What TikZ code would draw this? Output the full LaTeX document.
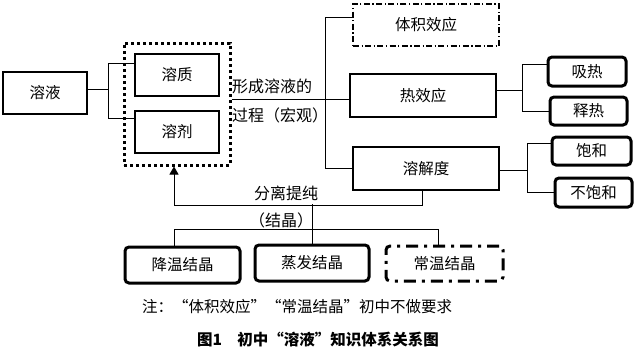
\documentclass[tikz,border=0pt]{standalone}
\usepackage{fontspec}
\newfontfamily\cjk{Noto Sans CJK SC}
\usetikzlibrary{arrows.meta,calc}
\begin{document}
\begin{tikzpicture}[x=1pt,y=-1pt,
  every node/.style={font=\cjk\fontsize{15.5}{18}\selectfont, inner sep=0pt},
  plainbox/.style={draw, line width=1.2pt},
  thickbox/.style={draw, line width=3pt, rounded corners=4pt},
  dotbox/.style={draw, line width=3pt, dash pattern=on 3pt off 3pt},
  dashdotthin/.style={draw, line width=1.2pt, dash pattern=on 6pt off 2.5pt on 1.2pt off 2.5pt},
  dashdotthick/.style={draw, line width=3pt, rounded corners=4pt, dash pattern=on 12pt off 6pt on 3pt off 6pt},
  ln/.style={line width=1pt},
  lab/.style={font=\cjk\fontsize{16}{18}\selectfont}
]
\useasboundingbox (0,0) rectangle (640,349);
\fill[white] (0,0) rectangle (640,349);

% boxes
\node[plainbox, minimum width=84pt, minimum height=42pt] (yy) at (45,93) {溶液};
\node[plainbox, minimum width=84pt, minimum height=42pt] (rz) at (177,75) {溶质};
\node[plainbox, minimum width=84pt, minimum height=42pt] (rj) at (177,132) {溶剂};
\node[dotbox, minimum width=106pt, minimum height=122pt] (dbox) at (177,104) {};
\node[dashdotthin, minimum width=146pt, minimum height=42pt] (tj) at (426,25) {体积效应};
\node[plainbox, minimum width=146pt, minimum height=43pt] (rxy) at (423,95.5) {热效应};
\node[plainbox, minimum width=146pt, minimum height=43pt] (rjd) at (426,168.5) {溶解度};
\node[thickbox, minimum width=78pt, minimum height=29pt] (xr) at (587,71.5) {吸热};
\node[thickbox, minimum width=77pt, minimum height=28pt] (sr) at (588.5,111) {释热};
\node[thickbox, minimum width=79pt, minimum height=28pt] (bh) at (591.5,151) {饱和};
\node[thickbox, minimum width=77pt, minimum height=29pt] (bbh) at (593.5,192.5) {不饱和};
\node[thickbox, minimum width=115pt, minimum height=36pt] (jw) at (182.5,265) {降温结晶};
\node[thickbox, minimum width=114pt, minimum height=36pt] (zf) at (312,263) {蒸发结晶};
\node[dashdotthick, minimum width=117pt, minimum height=35pt] (cw) at (444.5,263.5) {常温结晶};

% labels
\node[lab, anchor=west] (l1) at (232,86) {形成溶液的};
\node[lab, anchor=west] (l2) at (232,115) {过程（宏观）};
\node[lab] (l3) at (286,193) {分离提纯};
\node[lab] (l4) at (281,220) {（结晶）};
\node[anchor=west, font=\cjk\fontsize{15.5}{17}\selectfont] (note) at (142,307) {注：“体积效应”“常温结晶”初中不做要求};
\node[font=\cjk\bfseries\fontsize{15.5}{16}\selectfont] (cap) at (318,340) {图1\quad 初中“溶液”知识体系关系图};

% connectors
\draw[ln] ($(yy.east)+(0,-4)$) -- ++(21,0);
\draw[ln] ($(rz.west)+(0,-12)$) -| ($(yy.east)+(21,0)$) |- ($(rj.west)+(0,-14)$);

\coordinate (p1) at ($(dbox.east)+(0,-5)$);
\draw[ln] (p1) -- (p1 -| rxy.west);
\draw[ln] ($(tj.west)+(0,-8)$) -- ++(-27,0) |- (rjd.west);

\coordinate (p2) at ($(rxy.east)+(0,-5.5)$);
\draw[ln] (p2) -- ++(26,0);
\draw[ln] ($(xr.west)+(0,-7.5)$) -| ($(p2)+(26,0)$) |- (sr.west);

\coordinate (p3) at ($(rjd.east)+(0,1.5)$);
\draw[ln] (p3) -- ++(28,0);
\draw[ln] ($(bh.west)+(0,-8)$) -| ($(p3)+(28,0)$) |- (bbh.west);

\draw[ln, -{Triangle[width=9pt,length=8pt]}] ($(rjd.south)+(-4,0)$) -- ++(0,15) -| ($(dbox.south)+(-3,0)$);
\draw[ln] (zf.north) -- ++(0,-40);
\draw[ln] ($(jw.north)+(-8.5,0)$) |- ($(cw.north)+(-6.5,-15)$) -- ($(cw.north)+(-6.5,0)$);
\end{tikzpicture}
\end{document}
